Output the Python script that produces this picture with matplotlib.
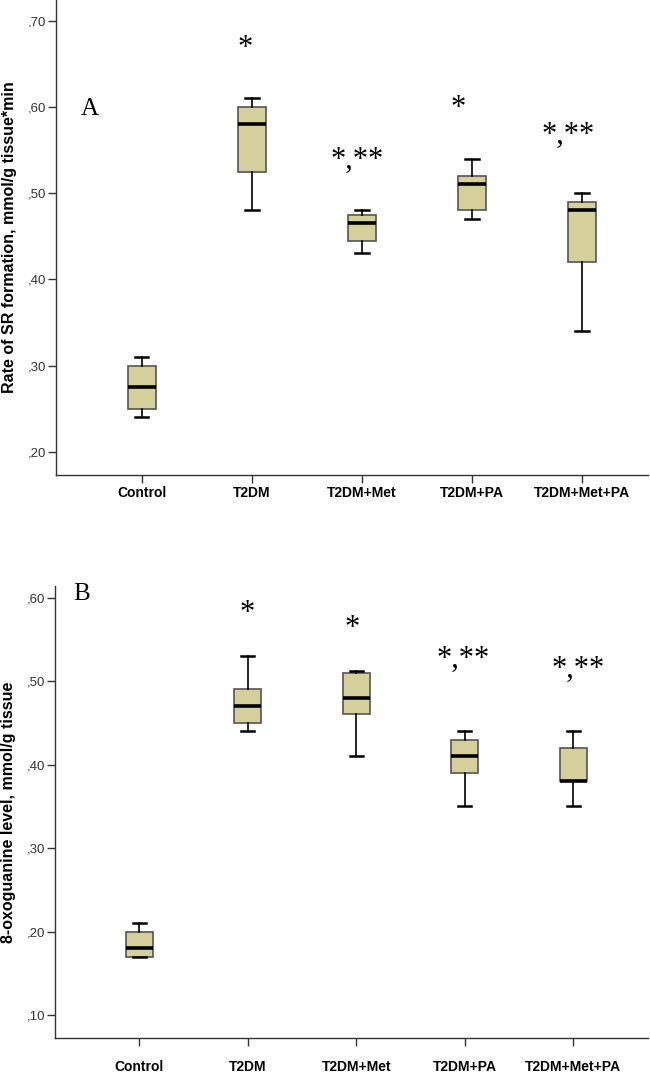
import matplotlib
matplotlib.use("Agg")
import matplotlib.pyplot as plt
from matplotlib.ticker import FuncFormatter

groups = ["Control", "T2DM", "T2DM+Met", "T2DM+PA", "T2DM+Met+PA"]

# panel A: rate of SR formation (whislo, q1, med, q3, whishi)
sr_low = [0.24, 0.48, 0.43, 0.47, 0.34]
sr_q1 = [0.25, 0.525, 0.445, 0.48, 0.42]
sr_med = [0.275, 0.58, 0.465, 0.51, 0.48]
sr_q3 = [0.30, 0.60, 0.475, 0.52, 0.49]
sr_high = [0.31, 0.61, 0.48, 0.54, 0.50]
sr_marks = ["", "*", "*,**", "*", "*,**"]
sr_mark_x = [1, 1.94, 2.96, 3.875, 4.875]
sr_mark_y = [0, 0.676, 0.5465, 0.606, 0.5755]

# panel B: 8-oxoguanine level
og_low = [0.17, 0.44, 0.41, 0.35, 0.35]
og_q1 = [0.17, 0.45, 0.46, 0.39, 0.38]
og_med = [0.18, 0.47, 0.48, 0.41, 0.38]
og_q3 = [0.20, 0.49, 0.51, 0.43, 0.42]
og_high = [0.21, 0.53, 0.512, 0.44, 0.44]
og_marks = ["", "*", "*", "*,**", "*,**"]
og_mark_x = [1, 1.99, 2.96, 3.99, 5.05]
og_mark_y = [0, 0.589, 0.571, 0.535, 0.523]

box_color = "#d4cf9b"
axis_color = "#333333"


def spss_fmt(v, pos):
    return ("%.2f" % v).lstrip("0").replace(".", ",")


def draw_panel(ax, low, q1, med, q3, high, yticks, ylim, xlim, ylabel,
               marks, mark_x, mark_y, letter, letter_xy, xpad):
    stats = []
    for i in range(len(groups)):
        stats.append({"whislo": low[i], "q1": q1[i], "med": med[i],
                      "q3": q3[i], "whishi": high[i], "fliers": [],
                      "label": groups[i]})
    ax.bxp(stats, positions=range(1, len(groups) + 1), widths=0.25,
           patch_artist=True, showfliers=False,
           boxprops=dict(facecolor=box_color, edgecolor="#555555", linewidth=1.2),
           medianprops=dict(color="black", linewidth=2.6),
           whiskerprops=dict(color="black", linewidth=1.2),
           capprops=dict(color="black", linewidth=1.8),
           capwidths=0.12)
    ax.set_xlim(*xlim)
    ax.set_ylim(*ylim)
    ax.set_yticks(yticks)
    ax.yaxis.set_major_formatter(FuncFormatter(spss_fmt))
    for s in ["top", "right"]:
        ax.spines[s].set_visible(False)
    for s in ["left", "bottom"]:
        ax.spines[s].set_color(axis_color)
        ax.spines[s].set_linewidth(1.0)
    ax.tick_params(axis="y", length=6, width=1, color=axis_color,
                   labelsize=9.5, labelcolor="#333333", pad=1)
    ax.tick_params(axis="x", length=6, width=1, color=axis_color, pad=xpad)
    for t in ax.get_xticklabels():
        t.set_fontweight("bold")
        t.set_fontsize(10)
        t.set_fontfamily("Liberation Sans")
    for t in ax.get_yticklabels():
        t.set_fontfamily("Liberation Sans")
    ax.set_ylabel(ylabel, fontsize=11.5, fontweight="bold", family="Liberation Sans")
    ax.yaxis.set_label_coords(-0.066, 0.5)
    for m, x, y in zip(marks, mark_x, mark_y):
        if m:
            ax.annotate(m, (x, y), xytext=(0, -10.4), textcoords="offset points",
                        ha="center", va="baseline", fontsize=22,
                        family="Liberation Serif")
    ax.annotate(letter, letter_xy, xytext=(0, -6), textcoords="offset points",
                ha="center", va="baseline", fontsize=18, family="Liberation Serif")


fig = plt.figure(figsize=(6.5, 10.72), dpi=100)
ax1 = fig.add_axes([0.0862, 0.5569, 0.9108, 0.4431])
ax2 = fig.add_axes([0.0846, 0.0320, 0.9124, 0.4214])

draw_panel(ax1, sr_low, sr_q1, sr_med, sr_q3, sr_high,
           [0.20, 0.30, 0.40, 0.50, 0.60, 0.70], (0.173, 0.724), (0.22, 5.6),
           "Rate of SR formation, mmol/g tissue*min",
           sr_marks, sr_mark_x, sr_mark_y, "A", (0.53, 0.60), 2)

draw_panel(ax2, og_low, og_q1, og_med, og_q3, og_high,
           [0.10, 0.20, 0.30, 0.40, 0.50, 0.60], (0.0728, 0.614), (0.223, 5.69),
           "8-oxoguanine level, mmol/g tissue",
           og_marks, og_mark_x, og_mark_y, "B", (0.472, 0.607), 10)

fig.savefig("out.png", dpi=100)
